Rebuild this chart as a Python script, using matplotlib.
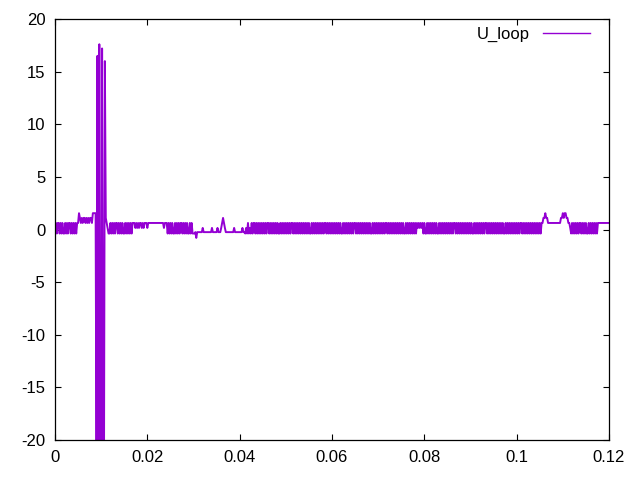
import numpy as np
import matplotlib
matplotlib.use('Agg')
import matplotlib.pyplot as plt

# sampled loop voltage, one code per sample, DT apart
DT = 0.0002
LEVELS = {'0': -0.38, '1': 0.62, '2': 1.1, '3': 1.55, 'f': -0.25, 'z': 0.15, 'd': -0.8,
          'A': 16.5, 'B': -25.0, 'C': 17.6, 'D': 17.2, 'E': 16.0}
U_LOOP_CODES = (
    '0101101010010101101010101'
    '13'
    '21212212121221333'
    '3BABCBBDBBE'
    '21z00'
    '1010101101010100101010101'
    '11z1z1z11z' '1z111z1111' '1111111111' '111z111'
    '0101010010' '1010110101' '01001010'
    '00fdf'
    'fffffzfffffffffzfffffzff'
    'fz121zff'
    'fffffffzffffffffzff'
    '0z010z0101101010'
    '1010101011' '0101010101' '0010101010' '1010110101' '0101010101'
    '0101001010' '1010101010' '1101010101' '0101010100' '1010101010'
    '1011010101' '0101010101' '0010101010' '1010101101' '0101010101'
    '0101010010' '1010101010' '1z1z1z1010' '0101010101' '0100101010'
    '1010101010' '1101010101' '0101010101' '0010101010' '1010110101'
    '0101010101' '0101001010' '1010101010' '1011010101' '0101010101'
    '010101'
    '12232211'
    '11111111111'
    '122323322'
    '11z010'
    '10101011010101001010101010'
    '1111111111111'
)
u_loop = [LEVELS[c] for c in U_LOOP_CODES]
t = np.arange(len(u_loop)) * DT

XTICKS = [0, 0.02, 0.04, 0.06, 0.08, 0.1, 0.12]
XLABELS = ['0', '0.02', '0.04', '0.06', '0.08', '0.1', '0.12']
YTICKS = [-20, -15, -10, -5, 0, 5, 10, 15, 20]

plt.rcParams['font.family'] = ['Liberation Sans', 'DejaVu Sans']
plt.rcParams['font.size'] = 12

fig = plt.figure(figsize=(6.4, 4.8), dpi=100)
ax = fig.add_axes([55 / 640, 1 - 440 / 480, 554 / 640, 421 / 480])

ax.plot(t, u_loop, color='#9400D3', linewidth=1.4, label='U_loop')

ax.set_xlim(0, 0.12)
ax.set_ylim(-20, 20)
ax.set_xticks(XTICKS, XLABELS)
ax.set_yticks(YTICKS, [str(v) for v in YTICKS])
ax.tick_params(direction='in', length=4.5, width=0.8, top=True, right=True, color='black')
ax.tick_params(axis='x', pad=7)
ax.tick_params(axis='y', pad=7)
for s in ax.spines.values():
    s.set_linewidth(0.9)
    s.set_color('black')

leg = ax.legend(loc='upper right', bbox_to_anchor=(0.978, 0.9976), frameon=False,
                markerfirst=False, handlelength=2.8, borderaxespad=0, handletextpad=0.8)
leg.get_lines()[0].set_linewidth(1.0)

fig.savefig('out.png', dpi=100)
